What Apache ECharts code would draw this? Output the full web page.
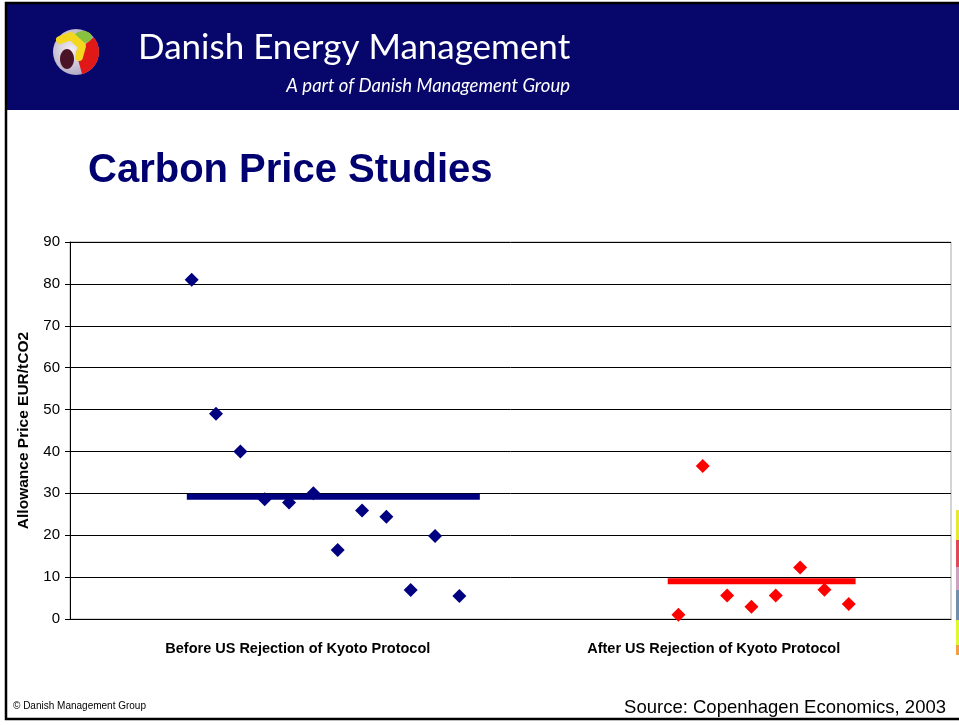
<!DOCTYPE html>
<html><head><meta charset="utf-8">
<script src="https://cdn.jsdelivr.net/npm/echarts@6/dist/echarts.min.js"></script>
<style>html,body{margin:0;padding:0;background:#fff}#c{width:959px;height:725px}</style>
</head><body><div id="c"></div>
<script>
// ---- data ----
const categories = ['Before US Rejection of Kyoto Protocol', 'After US Rejection of Kyoto Protocol'];
const categoryCenters = [9.36, 26.45];
const beforeX = [5, 6, 7, 8, 9, 10, 11, 12, 13, 14, 15, 16];
const beforeY = [81, 49, 40, 28.6, 27.8, 30, 16.5, 25.9, 24.4, 6.9, 19.8, 5.5];
const afterX = [25, 26, 27, 28, 29, 30, 31, 32];
const afterY = [1, 36.5, 5.6, 2.9, 5.6, 12.3, 7, 3.6];
const beforeMean = 29.2, beforeSpan = [4.8, 16.84];
const afterMean = 9.0, afterSpan = [24.56, 32.28];
const yTicks = [0, 10, 20, 30, 40, 50, 60, 70, 80, 90];

const chart = echarts.init(document.getElementById('c'), null, {renderer: 'canvas'});
const navy = '#06066b';
const option = {
  backgroundColor: '#ffffff',
  animation: false,
  grid: {left: 70, right: 8, top: 242, bottom: 106, show: true, borderColor: '#a8a8a8', borderWidth: 1},
  xAxis: {
    type: 'value', min: 0, max: 36.2,
    axisLine: {show: true, lineStyle: {color: '#000', width: 1}},
    axisTick: {show: false},
    splitLine: {show: false},
    axisLabel: {
      customValues: categoryCenters,
      margin: 22,
      fontFamily: 'Arial, "Liberation Sans"', fontWeight: 'bold', fontSize: 14.5, color: '#000',
      formatter: v => { const i = categoryCenters.indexOf(v); return i >= 0 ? categories[i] : ''; }
    }
  },
  yAxis: {
    type: 'value', min: yTicks[0], max: yTicks[yTicks.length - 1], interval: 10,
    name: 'Allowance Price EUR/tCO2', nameLocation: 'middle', nameRotate: 90, nameGap: 38,
    nameTextStyle: {fontFamily: 'Arial, "Liberation Sans"', fontWeight: 'bold', fontSize: 15.5, color: '#000'},
    axisLine: {show: true, lineStyle: {color: '#000', width: 1}},
    axisTick: {show: true, length: 5, lineStyle: {color: '#000'}},
    axisLabel: {margin: 10, fontFamily: 'Arial, "Liberation Sans"', fontSize: 15, color: '#000'},
    splitLine: {show: true, lineStyle: {color: '#000', width: 1}}
  },
  series: [
    {type: 'line', data: [[beforeSpan[0], beforeMean], [beforeSpan[1], beforeMean]], symbol: 'none',
     lineStyle: {color: '#000080', width: 6}, z: 2},
    {type: 'line', data: [[afterSpan[0], afterMean], [afterSpan[1], afterMean]], symbol: 'none',
     lineStyle: {color: '#ff0000', width: 6}, z: 2},
    {type: 'scatter', data: beforeX.map((x, i) => [x, beforeY[i]]), symbol: 'diamond', symbolSize: 14,
     itemStyle: {color: '#000080', opacity: 1}, z: 3},
    {type: 'scatter', data: afterX.map((x, i) => [x, afterY[i]]), symbol: 'diamond', symbolSize: 14,
     itemStyle: {color: '#ff0000', opacity: 1}, z: 3}
  ],
  graphic: [
    // slide frame
    {type: 'rect', shape: {x: 6, y: 3, width: 960, height: 716}, style: {fill: 'none', stroke: '#000', lineWidth: 2.5}, z: 10},
    // header band
    {type: 'rect', shape: {x: 7, y: 4, width: 952, height: 106}, style: {fill: navy}, z: 9},
    // logo sphere
    {type: 'circle', shape: {cx: 76, cy: 52, r: 23},
     style: {fill: new echarts.graphic.RadialGradient(0.4, 0.45, 0.75, [{offset: 0, color: '#f4eef4'}, {offset: 0.7, color: '#b8b0c8'}, {offset: 1, color: '#6070a0'}])}, z: 11},
    {type: 'sector', shape: {cx: 76, cy: 52, r: 23, r0: 0, startAngle: -0.7, endAngle: 1.3}, style: {fill: '#e01818'}, z: 12},
    {type: 'ellipse', shape: {cx: 83, cy: 37, rx: 9, ry: 6}, style: {fill: '#88c040'}, z: 13},
    {type: 'polyline', shape: {points: [[60, 40], [71, 36], [82, 46], [79, 57]]},
     style: {stroke: '#f4d820', lineWidth: 8, lineCap: 'round', lineJoin: 'round', fill: 'none'}, z: 14},
    {type: 'ellipse', shape: {cx: 67, cy: 59, rx: 7, ry: 10}, style: {fill: '#4a1426'}, z: 13},
    // header texts
    {type: 'text', left: 138, top: 30, style: {text: 'Danish Energy Management', font: '35px Lato, "Open Sans", sans-serif', fill: '#ffffff'}, z: 12},
    {type: 'text', right: 389, top: 77, style: {text: 'A part of Danish Management Group', font: 'italic 18.5px Lato, "Open Sans", sans-serif', fill: '#ffffff', textAlign: 'right'}, z: 12},
    // title
    {type: 'text', left: 88, top: 151, style: {text: 'Carbon Price Studies', font: 'bold 40px Arial, "Liberation Sans", sans-serif', fill: '#000070'}, z: 12},
    // footer
    {type: 'text', left: 13, top: 701, style: {text: '© Danish Management Group', font: '10px Arial, "Liberation Sans", sans-serif', fill: '#000'}, z: 12},
    {type: 'text', right: 13, top: 698, style: {text: 'Source: Copenhagen Economics, 2003', font: '18.5px Arial, "Liberation Sans", sans-serif', fill: '#000', textAlign: 'right'}, z: 12},
    // right edge colour strip
    {type: 'rect', shape: {x: 956, y: 510, width: 3, height: 30}, style: {fill: '#e8e830'}, z: 12},
    {type: 'rect', shape: {x: 956, y: 540, width: 3, height: 27}, style: {fill: '#e04858'}, z: 12},
    {type: 'rect', shape: {x: 956, y: 567, width: 3, height: 23}, style: {fill: '#d0a0c0'}, z: 12},
    {type: 'rect', shape: {x: 956, y: 590, width: 3, height: 30}, style: {fill: '#7090b0'}, z: 12},
    {type: 'rect', shape: {x: 956, y: 620, width: 3, height: 25}, style: {fill: '#e0f830'}, z: 12},
    {type: 'rect', shape: {x: 956, y: 645, width: 3, height: 10}, style: {fill: '#f0a040'}, z: 12}
  ]
};
chart.setOption(option);
</script></body></html>
